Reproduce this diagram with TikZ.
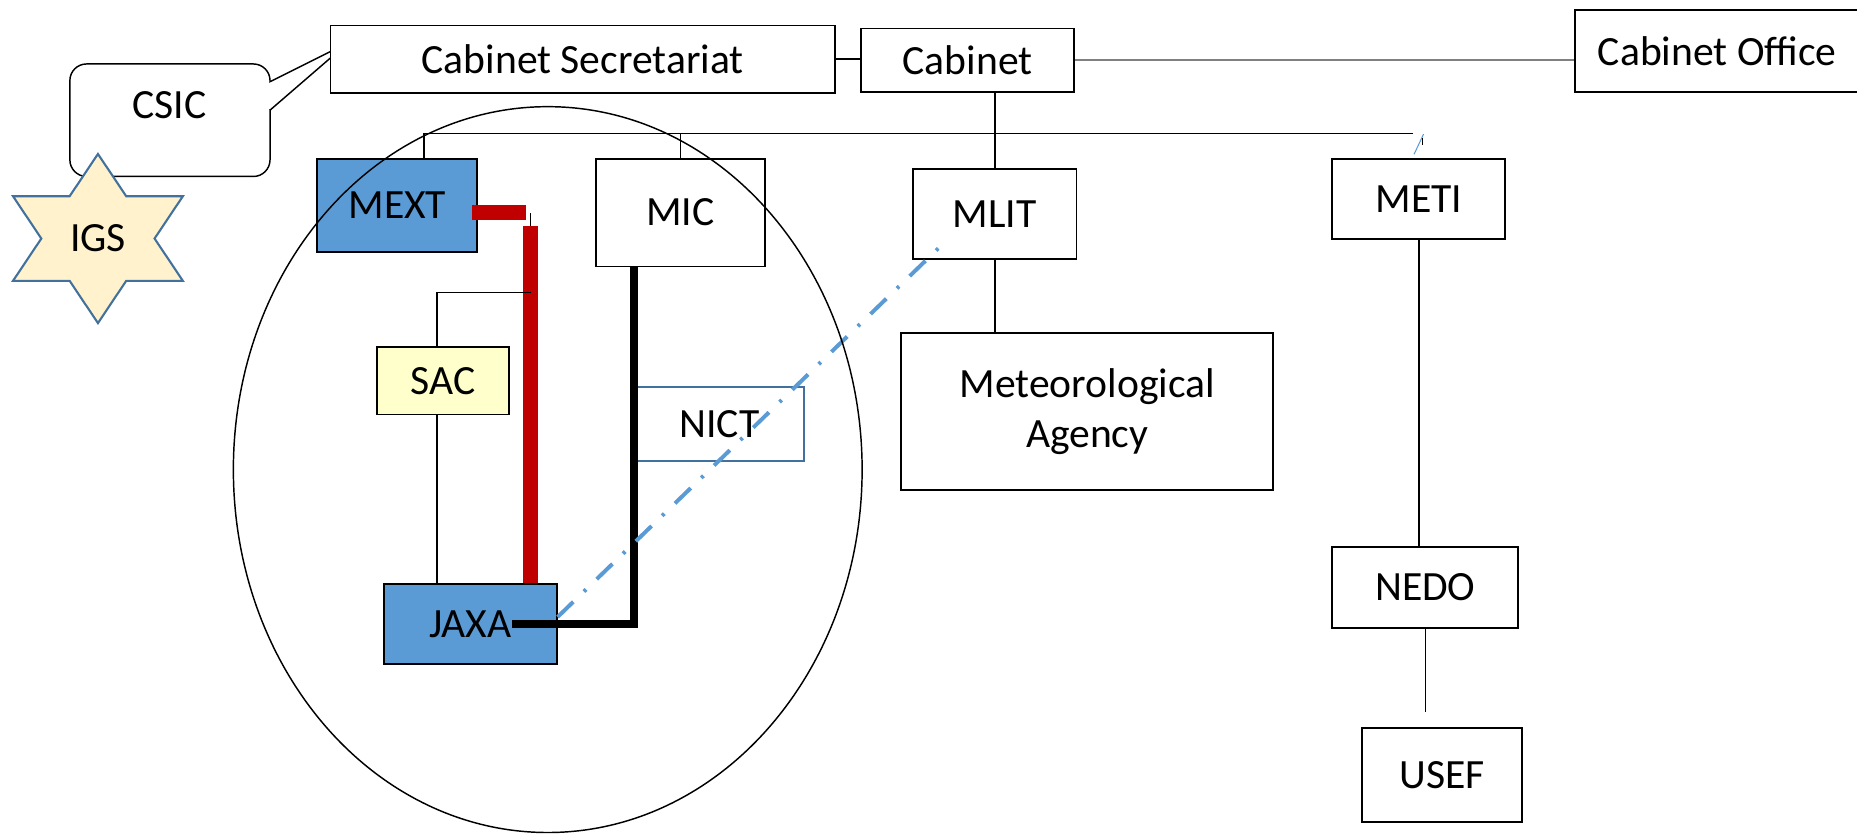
\documentclass[tikz,border=0pt]{standalone}
\usepackage{fontspec}
\setmainfont{Carlito}
\definecolor{jblue}{RGB}{91,155,213}
\definecolor{jedge}{RGB}{65,113,156}
\definecolor{jred}{RGB}{192,0,0}
\definecolor{sacfill}{RGB}{255,255,204}
\definecolor{starfill}{RGB}{255,242,204}

\begin{document}
\begin{tikzpicture}[x=0.02cm, y=-0.02cm,
	label/.style={font=\fontsize{20}{24}\selectfont},
	box/.style={label, draw, line width=0.9pt, inner sep=0pt, fill=white, align=center},
	link/.style={line width=0.7pt},
	redlink/.style={jred, line width=7pt},
	blacklink/.style={line width=4pt},
	dashlink/.style={jblue, line width=1.9pt, dash pattern=on 0.37cm off 0.25cm on 0.05cm off 0.25cm}]
					\path[use as bounding box, fill=white] (0,0) rectangle (1568,704);

					% callout and star
					\draw [link, fill=white, rounded corners=8pt] (59,54) rectangle (228,149);
					\fill [white] (226,70) rectangle (230,92);
					\draw [link, fill=white] (228,69) -- (294,36) -- (228,93);
					\node [label] (csic) at (143,89) {CSIC};
					\draw [draw=jedge, fill=starfill, line width=1pt] (82.7,130) -- (106.6,165.7) -- (154.4,165.7) -- (130.5,201.4) -- (154.4,237.1) -- (106.6,237.1) -- (82.7,272.8) -- (58.8,237.1) -- (11,237.1) -- (34.9,201.4) -- (11,165.7) -- (58.8,165.7) -- cycle;
					\node [label] (igs) at (82.7,201.4) {IGS};

					% boxes
					\node [box, minimum width=8.52cm, minimum height=1.14cm] (sec) at (492,50) {Cabinet Secretariat};
					\node [box, minimum width=3.6cm, minimum height=1.08cm] (cab) at (817,51) {Cabinet};
					\node [box, minimum width=4.8cm, minimum height=1.38cm] (office) at (1450,43) {Cabinet Office};
					\node [box, fill=jblue, minimum width=2.7cm, minimum height=1.58cm] (mext) at (335.5,173.5) {MEXT};
					\node [box, minimum width=2.86cm, minimum height=1.82cm] (mic) at (574.5,179.5) {MIC};
					\node [box, minimum width=2.76cm, minimum height=1.52cm] (mlit) at (840,181) {MLIT};
					\node [box, minimum width=6.28cm, minimum height=2.66cm] (met) at (918,347.5) {Meteorological\\Agency};
					\node [box, minimum width=2.92cm, minimum height=1.36cm] (meti) at (1198,168) {METI};
					\node [box, minimum width=3.14cm, minimum height=1.36cm] (nedo) at (1203.5,496) {NEDO};
					\node [box, minimum width=2.7cm, minimum height=1.58cm] (usef) at (1217.5,654.5) {USEF};
					\node [box, fill=sacfill, minimum width=2.24cm, minimum height=1.14cm] (sac) at (374,321.5) {SAC};
					\node [box, draw=jedge, minimum width=2.86cm, minimum height=1.24cm] (nict) at (607.5,358) {NICT};
					\node [box, fill=jblue, minimum width=2.92cm, minimum height=1.36cm] (jaxa) at (397,527) {JAXA};

					% top links
					\draw [link] (sec.east) -- (sec.east -| cab.west);
					\draw [line width=1pt, gray] (cab.east) -- (cab.east -| office.west);
					\draw [link] (mlit.north |- cab.south) -- (mlit.north);
					\coordinate (busL) at (358,112.5);
					\coordinate (busR) at (1193,112.5);
					\draw [link] (busL |- mext.north) -- (busL) -- (busR);
					\draw [link] (mic.north |- busL) -- (mic.north);
					\draw [jblue, line width=0.5pt] ([xshift=-0.08cm, yshift=0.06cm]meti.north) -- ++(8,-17);
					\draw [line width=0.5pt] ([xshift=0.07cm, yshift=0.22cm]meti.north) -- ++(0,-6);
					\draw [link] (mlit.south) -- (mlit.south |- met.north);
					\draw [link] (meti.south) -- (meti.south |- nedo.north);
					\draw [link] (nedo.south) -- ([yshift=0.26cm]usef.north -| nedo.south);

					% links round JAXA
					\draw [redlink] ([xshift=-0.1cm, yshift=-0.12cm]mext.east) -- ++(45,0);
					\coordinate (redtop) at (448,191);
					\draw [line width=0.5pt] (redtop) -- ++(0,-11);
					\draw [redlink] (redtop) -- (redtop |- jaxa.north);
					\coordinate (sacbend) at (369,247);
					\draw [link] (redtop |- sacbend) -- (sacbend) -- (sacbend |- sac.north);
					\draw [link] (sacbend |- sac.south) -- (sacbend |- jaxa.north);
					\draw [blacklink] (mic.south -| nict.west) |- ([xshift=0.7cm]jaxa.center);
					\draw [dashlink] ([yshift=0.12cm]jaxa.east) -- ([xshift=0.46cm, yshift=0.22cm]mlit.south west);

					\draw [link] (462.5,396.5) ellipse [x radius=5.31cm, y radius=6.13cm];
				\end{tikzpicture}
\end{document}
